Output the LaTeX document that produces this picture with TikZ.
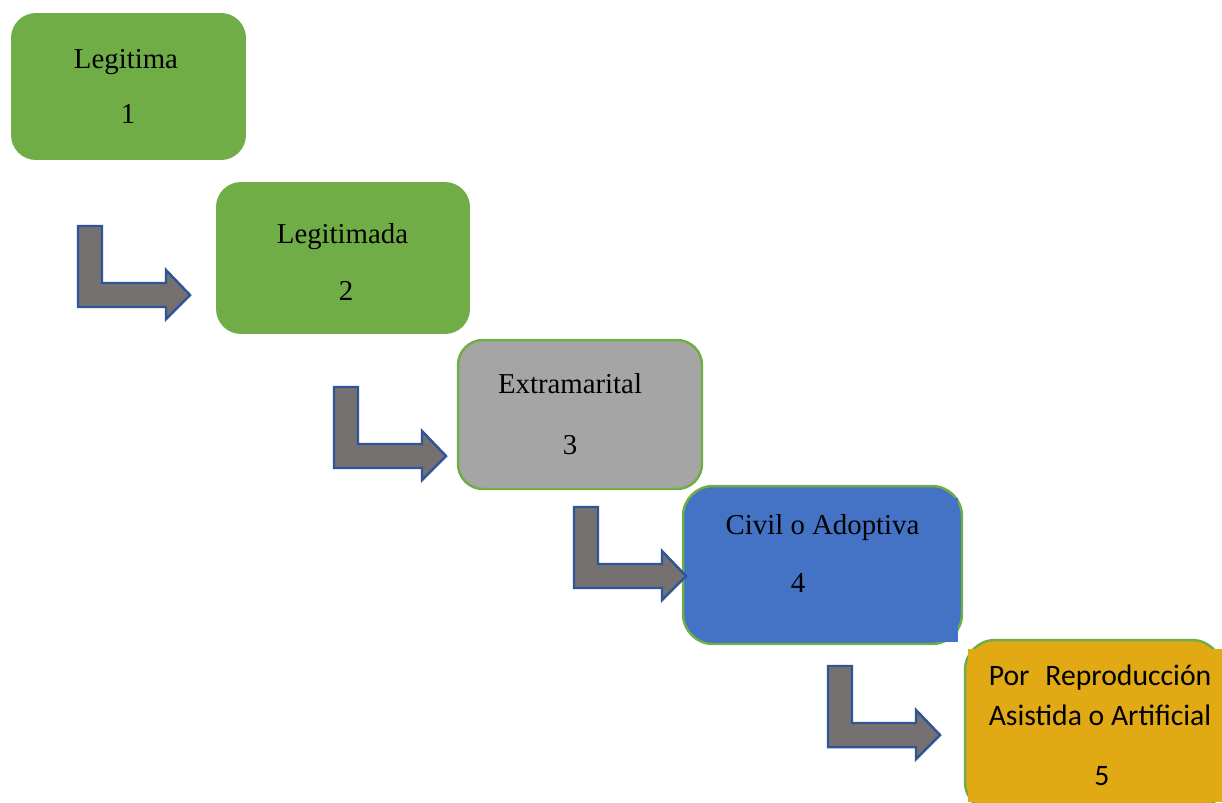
\documentclass[tikz,border=0pt]{standalone}
\usepackage{fontspec}
\setmainfont{Liberation Serif}
\newfontfamily\calibri{Carlito}
\usepackage{calc}
\definecolor{verde}{HTML}{70AD47}
\definecolor{gris}{HTML}{A5A5A5}
\definecolor{azul}{HTML}{4472C4}
\definecolor{naranja}{HTML}{E1AA14}
\definecolor{flechagris}{HTML}{767171}
\definecolor{flechaborde}{HTML}{2F5597}
\tikzset{
	caja/.style={rectangle,rounded corners=0.5cm,inner sep=0pt},
	texto/.style={anchor=base,inner sep=0pt,font=\fontsize{16.4}{20}\selectfont},
	textosf/.style={texto,font=\calibri\fontsize{16.9}{20}\selectfont},
	flecha/.style={fill=flechagris,draw=flechaborde,line width=1.4pt,line join=miter}
}
\begin{document}
\begin{tikzpicture}[x=0.02cm,y=-0.02cm]
		\useasboundingbox (0,0) rectangle (1222,802);
		% cajas
		\node[caja,fill=verde,minimum width=4.7cm,minimum height=2.94cm] (c1) at (128.5,86.5) {};
		\node[caja,fill=verde,minimum width=5.08cm,minimum height=3.04cm] (c2) at (343,258) {};
		\node[caja,fill=gris,draw=verde,line width=1.4pt,minimum width=4.88cm,minimum height=2.98cm] (c3) at (580,414.5) {};
		\node[caja,fill=azul,draw=verde,line width=1.4pt,rounded corners=0.6cm,minimum width=5.58cm,minimum height=3.16cm] (c4) at (822.5,565) {};
		\fill[azul] (720,498) rectangle (958,642);
		\node[caja,fill=naranja,draw=verde,line width=1.4pt,rounded corners=0.6cm,minimum width=5.14cm,minimum height=3.44cm] (c5) at (1093.5,726) {};
		\fill[naranja] (968,649) rectangle (1222,802);
		% flechas
		\foreach \x/\y in {78/226,334/387,574/507,828/666}
		\draw[flecha,shift={(\x,\y)}] (0,0)--(24,0)--(24,57)--(88,57)--(88,44)--(112,69)--(88,93)--(88,81)--(0,81)--cycle;
		% textos
		\node[texto] (t1) at (126,68) {Legitima};
		\node[texto] (n1) at (128,123) {1};
		\node[texto] (t2) at (342.5,243) {Legitimada};
		\node[texto] (n2) at (346,300) {2};
		\node[texto] (t3) at (570,393) {Extramarital};
		\node[texto] (n3) at (570,454) {3};
		\node[texto] (t4) at (822.5,534) {Civil o Adoptiva};
		\node[texto] (n4) at (798,592) {4};
		\node[textosf] (t5) at (1100,685) {\makebox[\widthof{Asistida o Artificial}]{Por\hfill Reproducción}};
		\node[textosf] (s5) at (1100,725) {Asistida o Artificial};
		\node[textosf] (n5) at (1102,785) {5};
\end{tikzpicture}
\end{document}
